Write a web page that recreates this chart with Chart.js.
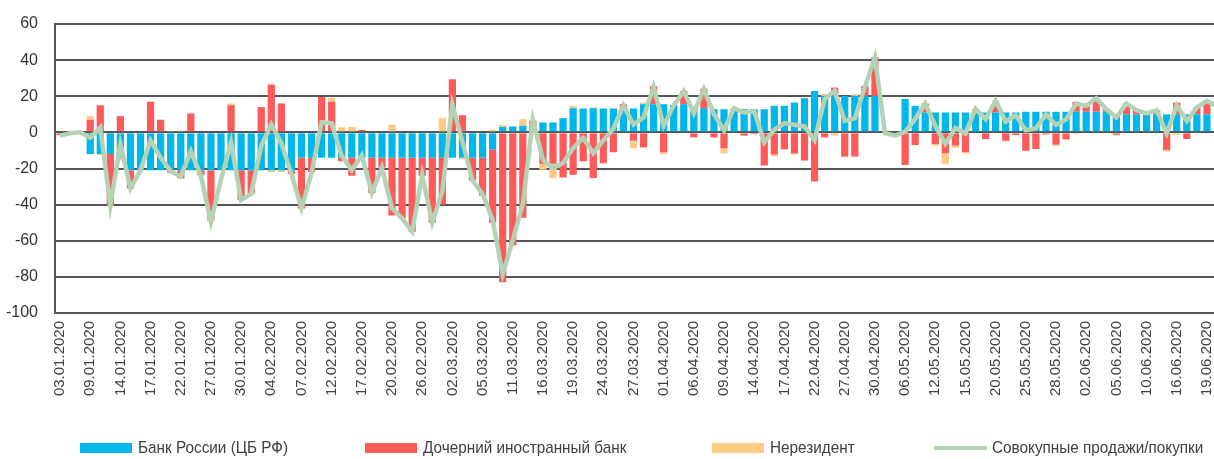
<!DOCTYPE html>
<html><head><meta charset="utf-8">
<script src="https://cdn.jsdelivr.net/npm/chart.js@4.4.1/dist/chart.umd.min.js"></script>
<style>
html,body{margin:0;padding:0;background:#fff;overflow:hidden;width:1214px;height:459px;}
#wrap{position:relative;width:1222px;height:459px;}
</style></head><body>
<div id="wrap"><canvas id="c" width="1222" height="459"></canvas></div>
<script>
// Trading days (categories)
const dates = ["03.01.2020","06.01.2020","08.01.2020","09.01.2020","10.01.2020","13.01.2020","14.01.2020","15.01.2020","16.01.2020","17.01.2020",
"20.01.2020","21.01.2020","22.01.2020","23.01.2020","24.01.2020","27.01.2020","28.01.2020","29.01.2020","30.01.2020","31.01.2020",
"03.02.2020","04.02.2020","05.02.2020","06.02.2020","07.02.2020","10.02.2020","11.02.2020","12.02.2020","13.02.2020","14.02.2020",
"17.02.2020","18.02.2020","19.02.2020","20.02.2020","21.02.2020","25.02.2020","26.02.2020","27.02.2020","28.02.2020","02.03.2020",
"03.03.2020","04.03.2020","05.03.2020","06.03.2020","10.03.2020","11.03.2020","12.03.2020","13.03.2020","16.03.2020","17.03.2020",
"18.03.2020","19.03.2020","20.03.2020","23.03.2020","24.03.2020","25.03.2020","26.03.2020","27.03.2020","30.03.2020","31.03.2020",
"01.04.2020","02.04.2020","03.04.2020","06.04.2020","07.04.2020","08.04.2020","09.04.2020","10.04.2020","13.04.2020","14.04.2020",
"15.04.2020","16.04.2020","17.04.2020","20.04.2020","21.04.2020","22.04.2020","23.04.2020","24.04.2020","27.04.2020","28.04.2020",
"29.04.2020","30.04.2020","04.05.2020","05.05.2020","06.05.2020","07.05.2020","08.05.2020","12.05.2020","13.05.2020","14.05.2020",
"15.05.2020","18.05.2020","19.05.2020","20.05.2020","21.05.2020","22.05.2020","25.05.2020","26.05.2020","27.05.2020","28.05.2020",
"29.05.2020","01.06.2020","02.06.2020","03.06.2020","04.06.2020","05.06.2020","08.06.2020","09.06.2020","10.06.2020","11.06.2020",
"15.06.2020","16.06.2020","17.06.2020","18.06.2020","19.06.2020","22.06.2020"];

// Банк России (ЦБ РФ)
const cbr = [0,0,0,-12,-12,-12,-14,-21,-21,-21,
-21,-21,-21,-21,-21,-21,-21,-21,-21,-21,
-21,-21,-21,-21,-14,-14,-14,-14,-14,-14,
-14,-14,-14,-14,-14,-14,-14,-14,-14,-14,
-14,-14,-14,-9.5,3,3.3,3.7,3.5,5.5,5.5,
7.9,13.4,13.2,13.4,13.2,13.2,13.2,13.2,15.6,15.6,
15.6,15.2,15.6,13.4,13.4,12.8,12.8,12.8,12.8,12.8,
12.8,14.7,14.7,16.5,18.9,22.9,20.2,20.2,20.2,20.2,
20.2,20.2,0,0,18.5,14.7,11,11,11,11,
11,11,11,11,11,11,11.4,11.4,11.4,11.4,
11.4,11.4,11.4,11.4,11.4,10,10,10,10,10,
10,10,10,10,10,null];

// Дочерний иностранный банк
const subsidiary = [-1.5,0,0,7,15,-28.7,9,-10,0,17,
7,-1.3,-4.5,10.5,-2.5,-27.5,0,15,-16.5,-12.5,
14,26.5,16,-2,-28,-8,19.6,17,-2,-10,
1.3,-19.5,-5.5,-32,-33.5,-41,-10,-36,-26,29.4,
9.5,-12.6,-21,-40.5,-83,-62.4,-47.3,3,-17.4,-17.4,
-25,-23.5,-16,-25.3,-16.9,-11,2.4,-4.6,-8.3,10,
-11,0,7.3,-2.8,10.8,-2.8,-8.8,0,-1.8,-1,
-18.3,-12.3,-9.2,-11.6,-15.6,-27.2,-2.8,4.6,-13.4,-13.4,
5.5,21.4,0,-0.5,-18,-7,5,-6.4,-11.6,-7.3,
-11,0,-3.7,5,-4.6,-1.5,-10.2,-9.2,-1,-6.8,
-3.7,5.5,3.3,7.5,1.4,-1.3,6,2.3,0,2.3,
-9.7,6.5,-3.7,3.8,7.4,null];

// Нерезидент
const nonresident = [0,0,0,2,-0.5,0,-1.5,0,0,0,
0,0.8,1,0,-0.5,-1,0,1,0,-1,
0,-1,-1,0,-0.5,0,0,2,2.8,3,
0,0,0,4.2,0,0,0,0,7.9,0,
-0.7,0,0,1.5,1,-0.5,3.6,0,-3.3,-7.9,
0,1.3,0,0.4,-0.5,0,-0.5,-4.2,0.9,0,
-1,0,0,0,0,0,-2.8,0.6,0,0,
0,-0.9,-0.5,-0.7,0,0,1,-1.8,-0.4,0.9,
-0.5,0,0,0,0,0,0,-0.9,-5.8,-1.3,
-0.6,2,0,1.5,-0.5,0,0,0,-0.5,-0.5,
-0.5,-1,0,0,0,-0.5,0,0,0.5,0,
-0.8,-1.5,0,0,0,null];

// Совокупные продажи/покупки
const total = [-1.8,-0.5,0,-3,2.7,-40.5,-6.5,-31,-21,-4.5,
-14,-21.5,-24.5,-10.5,-24,-49.5,-26,-5.5,-37.5,-34,
-7.5,4.5,-6,-23,-42,-22.5,5.6,5,-13,-21,
-12.7,-33.5,-19.5,-42,-47.5,-55,-23.5,-50,-32.5,15.4,
-5.2,-26.6,-34,-48.5,-78.5,-59.6,-40,7,-15.2,-19.8,
-17,-8.8,-3,-11.5,-4.4,2,15,4.4,8.2,25.3,
3.6,15,22.8,10.6,24,10,1.2,13.4,11,11.7,
-5.5,1.5,5,4.2,3.3,-4.3,18.4,23,6.4,7.7,
25.2,41.6,-0.5,-1.8,0.3,7.5,16,3.7,-6.4,2.4,
-0.6,13,7.3,17.5,5.9,9.5,1.2,2.2,9.9,4.1,
7.2,15.9,14.7,18.9,12.8,8.2,16,12.3,10.5,12.3,
-0.5,15,6.3,13.8,17.4,14.5];

const yMin = -100, yMax = 60, yStep = 20;
const LABEL_EVERY = 3;

const seriesNames = ["Банк России (ЦБ РФ)", "Дочерний иностранный банк", "Нерезидент", "Совокупные продажи/покупки"];
const colors = ["#00B7EB", "#FF5A5A", "#FFCA85", "#B4D3B4"];

const legendX = [80, 365, 712, 934];

const customLegend = {
  id: 'customLegend',
  afterDraw(chart) {
    const ctx = chart.ctx;
    const y = 448;
    const squeeze = 0.9;
    chart.data.datasets.forEach((ds, i) => {
      const x = legendX[i];
      ctx.save();
      if (ds.type === 'line') {
        ctx.strokeStyle = ds.borderColor;
        ctx.lineWidth = 4;
        ctx.beginPath(); ctx.moveTo(x, y); ctx.lineTo(x + 53, y); ctx.stroke();
      } else {
        ctx.fillStyle = ds.backgroundColor;
        ctx.fillRect(x, y - 5, 52, 10);
      }
      ctx.font = '17px "Liberation Sans", Arial, sans-serif';
      ctx.textBaseline = 'middle';
      ctx.textAlign = 'left';
      ctx.fillStyle = '#404040';
      ctx.translate(x + 58, y);
      ctx.scale(squeeze, 1);
      ctx.fillText(ds.label, 0, 0);
      ctx.restore();
    });
  }
};

new Chart(document.getElementById('c'), {
  type: 'bar',
  data: {
    labels: dates,
    datasets: [
      { label: seriesNames[0], data: cbr, backgroundColor: colors[0], stack: 'bars', order: 1 },
      { label: seriesNames[1], data: subsidiary, backgroundColor: colors[1], stack: 'bars', order: 1 },
      { label: seriesNames[2], data: nonresident, backgroundColor: colors[2], stack: 'bars', order: 1 },
      { type: 'line', label: seriesNames[3], data: total, borderColor: colors[3], backgroundColor: colors[3],
        borderWidth: 4.5, pointRadius: 0, tension: 0, stack: 'total', order: 0, fill: false }
    ]
  },
  options: {
    responsive: false,
    animation: false,
    devicePixelRatio: 1,
    barPercentage: 0.72,
    categoryPercentage: 1.0,
    layout: { padding: { top: 24, right: 0, bottom: 54, left: 0 } },
    plugins: { legend: { display: false }, tooltip: { enabled: false } },
    scales: {
      x: {
        stacked: true,
        grid: { display: false, drawTicks: false },
        border: { display: false },
        ticks: {
          autoSkip: false, maxRotation: 90, minRotation: 90, padding: 8,
          color: '#404040',
          font: { family: '"Liberation Sans", Arial, sans-serif', size: 15 },
          callback: function(v, i) { return i % LABEL_EVERY === 0 ? dates[i] : ''; }
        },
        afterFit(scale) { scale.height = 92; scale.paddingRight = 0; scale.paddingLeft = 0; }
      },
      y: {
        stacked: true,
        min: yMin, max: yMax,
        grid: { color: '#555555', lineWidth: 2, drawTicks: false },
        border: { display: true, color: '#555555', width: 2 },
        ticks: {
          stepSize: yStep, padding: 17, color: '#333333',
          font: { family: '"Liberation Sans", Arial, sans-serif', size: 16 }
        },
        afterFit(scale) { scale.width = 55; scale.paddingTop = 0; scale.paddingBottom = 0; }
      }
    }
  },
  plugins: [customLegend]
});
</script>
</body></html>
